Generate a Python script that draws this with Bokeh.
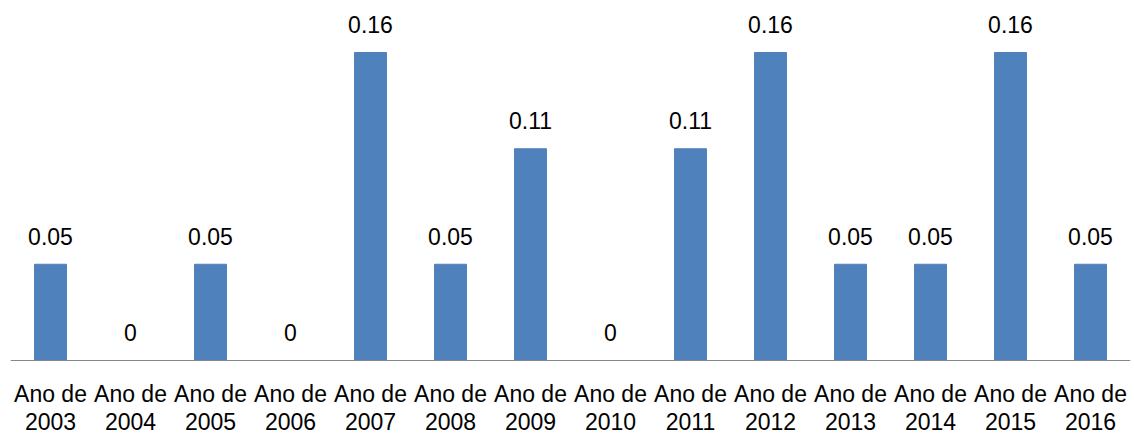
from bokeh.plotting import figure
from bokeh.models import ColumnDataSource, FactorRange, Range1d, Span
from bokeh.core.properties import value
from bokeh.embed import file_html
from bokeh.resources import INLINE

years = ["2003", "2004", "2005", "2006", "2007", "2008", "2009",
         "2010", "2011", "2012", "2013", "2014", "2015", "2016"]
values = [0.05, 0, 0.05, 0, 0.16, 0.05, 0.11, 0, 0.11, 0.16, 0.05, 0.05, 0.16, 0.05]
value_labels = ["0.05", "0", "0.05", "0", "0.16", "0.05", "0.11", "0", "0.11", "0.16",
                "0.05", "0.05", "0.16", "0.05"]
prefix = "Ano de"

src = ColumnDataSource(dict(cat=years, val=values, lab=value_labels,
                            pre=[prefix] * len(years), zero=[0] * len(years)))

px_per_unit = 308 / 0.16
p = figure(width=1134, height=437, output_backend="svg", toolbar_location=None,
           x_range=FactorRange(*years, range_padding=0),
           y_range=Range1d(-77 / px_per_unit, 360 / px_per_unit),
           min_border_left=10, min_border_right=4, min_border_top=0, min_border_bottom=0)

p.vbar(x="cat", top="val", width=0.4, source=src, fill_color="#4F81BD",
       line_color="#4F81BD")
p.text(x="cat", y="val", text="lab", source=src, text_align="center",
       text_baseline="alphabetic", y_offset=-28, text_font_size="23px",
       text_font=value("Liberation Sans"), text_color="#000000")

p.add_layout(Span(location=0, dimension="width", line_color="#868686", line_width=1))

p.text(x="cat", y="zero", text="pre", source=src, text_align="center",
       text_baseline="alphabetic", y_offset=33, text_font_size="23px",
       text_font=value("Liberation Sans"), text_color="#000000")
p.text(x="cat", y="zero", text="cat", source=src, text_align="center",
       text_baseline="alphabetic", y_offset=61, text_font_size="23px",
       text_font=value("Liberation Sans"), text_color="#000000")

p.xaxis.visible = False
p.yaxis.visible = False
p.xgrid.visible = False
p.ygrid.visible = False
p.outline_line_color = None

open("out.html", "w").write(file_html(p, INLINE))
